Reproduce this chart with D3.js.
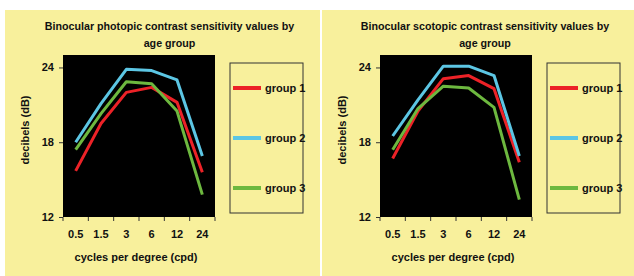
<!DOCTYPE html>
<html>
<head>
<meta charset="utf-8">
<script src="https://cdn.jsdelivr.net/npm/d3@7"></script>
<style>
  body { margin: 0; background: #fff; }
  text { font-family: "Liberation Sans", Arial, sans-serif; font-weight: bold; fill: #111; }
</style>
</head>
<body>
<div id="svgContainer"></div>
<script>
const width = 634;
const height = 276;

// category labels (cycles per degree)
const cpd = ["0.5", "1.5", "3", "6", "12", "24"];
const groups = ["group 1", "group 2", "group 3"];
const colors = ["#ec2227", "#5cc6e4", "#6db83f"];
const yTicks = [12, 18, 24];

// photopic values (dB)
const photopic1 = [15.7, 19.5, 22.0, 22.4, 21.2, 15.6];
const photopic2 = [18.0, 21.1, 23.85, 23.75, 23.0, 16.9];
const photopic3 = [17.4, 20.3, 22.85, 22.7, 20.5, 13.8];

// scotopic values (dB)
const scotopic1 = [16.7, 20.5, 23.1, 23.35, 22.3, 16.4];
const scotopic2 = [18.5, 21.4, 24.1, 24.1, 23.35, 16.9];
const scotopic3 = [17.4, 20.7, 22.5, 22.35, 20.8, 13.4];

const svg = d3.select("#svgContainer").append("svg")
  .attr("width", width)
  .attr("height", height)

function drawPanel(left, right, titleLines, series) {
  const g = svg.append("g")

  g.append("rect")
    .attr("x", left)
    .attr("y", 10)
    .attr("width", right - left)
    .attr("height", height - 10)
    .attr("fill", "#f8f09c")

  const plotLeft = left + 58;
  const plotRight = plotLeft + 152;
  const margin = ({top: 55, bottom: 217})

  const x = d3.scaleBand()
    .domain(cpd)
    .range([plotLeft, plotRight])

  const y = d3.scaleLinear()
    .domain([12, 25])
    .range([margin.bottom, margin.top])

  g.append("rect")
    .attr("x", plotLeft)
    .attr("y", margin.top)
    .attr("width", plotRight - plotLeft)
    .attr("height", margin.bottom - margin.top)
    .attr("fill", "#000")

  // title
  const centre = (left + right) / 2 + 7;
  g.append("text")
    .attr("text-anchor", "middle")
    .attr("font-size", 10.7)
    .selectAll("tspan")
    .data(titleLines)
    .join("tspan")
      .attr("x", centre)
      .attr("y", (d, i) => 30 + i * 17)
      .text(d => d)

  // y axis
  g.append("g")
    .attr("transform", `translate(${plotLeft},0)`)
    .call(d3.axisLeft(y).tickValues(yTicks).tickSize(4).tickPadding(5))
    .call(a => a.select(".domain").remove())
    .call(a => a.selectAll("line").attr("stroke", "#333"))
    .call(a => a.selectAll("text").attr("font-size", 11).attr("font-family", null).attr("fill", "#111"))

  // x axis: ticks at category boundaries
  const xAxis = g.append("g")
    .attr("transform", `translate(0,${margin.bottom})`)
  xAxis.selectAll("line")
    .data(cpd.map(c => x(c)).concat([x(cpd[cpd.length - 1]) + x.bandwidth()]))
    .join("line")
      .attr("x1", d => d)
      .attr("x2", d => d)
      .attr("y1", 0)
      .attr("y2", 4)
      .attr("stroke", "#333")
  xAxis.selectAll("text")
    .data(cpd)
    .join("text")
      .attr("x", d => x(d) + x.bandwidth() / 2)
      .attr("y", 21)
      .attr("text-anchor", "middle")
      .attr("font-size", 11)
      .text(d => d)

  g.append("text")
    .attr("x", (plotLeft + plotRight) / 2 - 3)
    .attr("y", 261)
    .attr("text-anchor", "middle")
    .attr("font-size", 11)
    .text("cycles per degree (cpd)")

  g.append("text")
    .attr("transform", `translate(${left + 24},${(margin.top + margin.bottom) / 2 - 6}) rotate(-90)`)
    .attr("text-anchor", "middle")
    .attr("font-size", 11)
    .text("decibels (dB)")

  const line = d3.line()
    .x((d, i) => x(cpd[i]) + x.bandwidth() / 2)
    .y(d => y(d))

  series.forEach((s, i) => {
    g.append("path")
      .datum(s)
      .attr("fill", "none")
      .attr("stroke", colors[i])
      .attr("stroke-width", 3)
      .attr("stroke-linejoin", "round")
      .attr("d", line)
  })

  // legend
  const boxLeft = plotRight + 15;
  g.append("rect")
    .attr("x", boxLeft)
    .attr("y", 63)
    .attr("width", 73)
    .attr("height", 150)
    .attr("fill", "none")
    .attr("stroke", "#333")
    .attr("stroke-width", 1)

  const item = g.selectAll(".legend")
    .data(groups)
    .join("g")
      .attr("transform", (d, i) => `translate(${boxLeft + 3},${88 + i * 50})`)
  item.append("line")
    .attr("x1", 0)
    .attr("x2", 28)
    .attr("stroke", (d, i) => colors[i])
    .attr("stroke-width", 4)
  item.append("text")
    .attr("x", 32)
    .attr("y", 4)
    .attr("font-size", 11)
    .text(d => d)
}

drawPanel(5, 320, ["Binocular photopic contrast sensitivity values by", "age group"],
  [photopic1, photopic2, photopic3]);
drawPanel(322, 634, ["Binocular scotopic contrast sensitivity values by", "age group"],
  [scotopic1, scotopic2, scotopic3]);
</script>
</body>
</html>
